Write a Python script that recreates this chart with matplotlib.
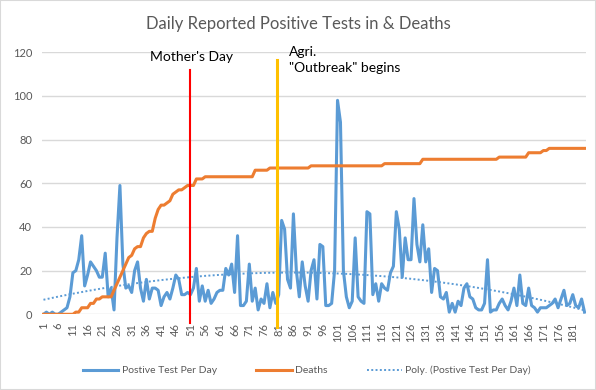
#!/usr/bin/env python3
import numpy as np
import matplotlib.pyplot as plt
from matplotlib.lines import Line2D
from matplotlib.patches import Rectangle

# daily positives (day 1..185)
positive = [
    0, 1, 0, 1, 0, 0, 1, 2, 3, 8,
    19, 20, 25, 36, 13, 18, 24, 22, 20, 17,
    17, 28, 8, 12, 2, 35, 59, 23, 12, 13,
    10, 20, 24, 12, 6, 16, 7, 12, 12, 11,
    4, 8, 10, 7, 12, 18, 16, 9, 9, 10,
    9, 12, 21, 6, 13, 6, 11, 5, 7, 10,
    11, 11, 21, 18, 23, 10, 36, 4, 4, 6,
    23, 6, 12, 2, 7, 5, 14, 3, 10, 5,
    9, 43, 39, 16, 12, 46, 20, 8, 24, 13,
    6, 20, 25, 7, 32, 31, 4, 4, 5, 20,
    98, 88, 20, 8, 3, 6, 35, 8, 6, 5,
    47, 46, 9, 14, 6, 14, 12, 11, 19, 22,
    47, 39, 17, 35, 25, 25, 53, 32, 24, 41,
    24, 30, 10, 21, 20, 8, 7, 10, 1, 5,
    1, 6, 4, 12, 14, 8, 7, 3, 2, 2,
    5, 25, 1, 2, 2, 5, 7, 4, 2, 6,
    12, 4, 18, 5, 4, 12, 4, 3, 1, 3,
    3, 3, 4, 5, 7, 3, 7, 11, 4, 5,
    9, 4, 3, 7, 1,
]

# cumulative deaths
deaths = (
    [0] * 11 + [1, 1, 3, 3, 3, 5, 5, 7, 7, 8, 8, 8, 8]
    + [11, 14, 17, 20, 23, 26, 27, 30, 31, 31, 35, 37, 38, 38, 44, 48,
       50, 50, 51, 52, 55, 56, 57, 57, 58, 59, 59, 59, 62, 62, 62]
    + [63] * 17 + [66] * 5 + [67] * 14 + [68] * 25 + [69] * 13
    + [71] * 26 + [72] * 10 + [74] * 5 + [75] * 2 + [76] * 13
)

days = np.arange(1, len(positive) + 1)
tick_days = list(range(1, 186, 5))

mothers_day = 51
agri_day = 80.5

BLUE = "#5b9bd5"
ORANGE = "#ed7d31"
GRAY = "#595959"

plt.rcParams["font.family"] = ["Lato", "DejaVu Sans"]

fig = plt.figure(figsize=(5.96, 3.90), dpi=100)
ax = fig.add_axes([42 / 596, 1 - 314.3 / 390, 544 / 596, 262 / 390])

# polynomial trendline (order 2, like Excel's default)
coef = np.polyfit(days, positive, 2)
trend = np.polyval(coef, days)

ax.plot(days, positive, color=BLUE, lw=2.2, solid_joinstyle="round", zorder=3)
ax.plot(days, deaths, color=ORANGE, lw=2.2, solid_joinstyle="round", zorder=3)
ax.plot(days, trend, color=BLUE, lw=1.4, ls=(0, (1, 1.2)), zorder=2)

# annotation lines
ax.plot([mothers_day, mothers_day], [-4, 112], color="#ff0000", lw=1.5,
        clip_on=False, zorder=5)
ax.plot([agri_day, agri_day], [-5.7, 116.5], color="#ffc000", lw=2.2,
        clip_on=False, zorder=5)
ax.text(51.5, 117.8, "Mother's Day", fontsize=10, color="black",
        ha="center", va="center")
ax.text(84.5, 120.3, "Agri.", fontsize=10, color="black", ha="left", va="center")
ax.text(84.5, 112.7, '"Outbreak" begins', fontsize=10, color="black",
        ha="left", va="center")

ax.set_xlim(0.5, len(days) + 0.5)
ax.set_ylim(0, 120)
ax.set_yticks(range(0, 121, 20))
ax.set_xticks(tick_days)
ax.set_xticklabels([str(d) for d in tick_days], rotation=90)
ax.tick_params(axis="both", length=0, colors=GRAY, labelsize=8)
ax.tick_params(axis="y", pad=7)
ax.tick_params(axis="x", pad=6)
ax.grid(axis="y", color="#d9d9d9", lw=1)
ax.set_axisbelow(True)
for s in ax.spines.values():
    s.set_visible(False)

fig.text(0.5, 1 - 23.5 / 390, "Daily Reported Positive Tests in & Deaths",
         ha="center", va="center", fontsize=12, color=GRAY)

handles = [
    Line2D([], [], color=BLUE, lw=2.2),
    Line2D([], [], color=ORANGE, lw=2.2),
    Line2D([], [], color=BLUE, lw=1.4, ls=(0, (1, 1.2))),
]
labels = ["Postive Test Per Day", "Deaths", "Poly. (Postive Test Per Day)"]
leg = fig.legend(handles, labels, loc="center", ncol=3, frameon=False,
                 bbox_to_anchor=(307 / 596, 1 - 370.7 / 390), fontsize=7.5,
                 handlelength=3.4, columnspacing=3.8, handletextpad=0.3)
for t in leg.get_texts():
    t.set_color(GRAY)

fig.patches.append(Rectangle((0, 0), 1, 1, transform=fig.transFigure,
                             fill=False, edgecolor="#d9d9d9", lw=1.5))

fig.savefig("out.png", dpi=100)
